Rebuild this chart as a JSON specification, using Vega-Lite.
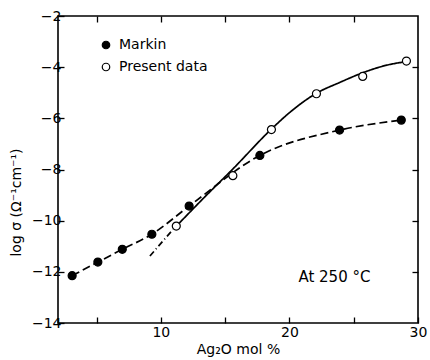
{
  "$schema": "https://vega.github.io/schema/vega-lite/v6.json",
  "width": 360,
  "height": 307,
  "autosize": {"type": "none"},
  "padding": {"left": 58, "top": 16, "right": 12, "bottom": 37},
  "background": "white",
  "config": {
    "font": "DejaVu Sans",
    "view": {"stroke": "black", "strokeWidth": 1.6},
    "axis": {"domain": false, "grid": false, "labelFlush": false, "labelFont": "DejaVu Sans", "labelFontSize": 14, "labelColor": "black", "tickColor": "black", "tickWidth": 1.3, "titleFont": "DejaVu Sans", "titleFontSize": 14, "titleFontWeight": "normal", "titleColor": "black"}
  },
  "datasets": {
    "points": [
      {"x": 3.1, "y": -12.15, "series": "Markin"},
      {"x": 5.1, "y": -11.62, "series": "Markin"},
      {"x": 7.0, "y": -11.12, "series": "Markin"},
      {"x": 9.3, "y": -10.53, "series": "Markin"},
      {"x": 12.2, "y": -9.43, "series": "Markin"},
      {"x": 17.7, "y": -7.45, "series": "Markin"},
      {"x": 23.9, "y": -6.46, "series": "Markin"},
      {"x": 28.7, "y": -6.07, "series": "Markin"},
      {"x": 11.2, "y": -10.21, "series": "Present data"},
      {"x": 15.6, "y": -8.24, "series": "Present data"},
      {"x": 18.6, "y": -6.44, "series": "Present data"},
      {"x": 22.1, "y": -5.04, "series": "Present data"},
      {"x": 25.7, "y": -4.36, "series": "Present data"},
      {"x": 29.1, "y": -3.76, "series": "Present data"}
    ],
    "curves": [
      {"x": 3.1, "y": -12.15, "curve": "markin"},
      {"x": 5.1, "y": -11.62, "curve": "markin"},
      {"x": 7.0, "y": -11.12, "curve": "markin"},
      {"x": 9.3, "y": -10.53, "curve": "markin"},
      {"x": 12.2, "y": -9.43, "curve": "markin"},
      {"x": 17.7, "y": -7.45, "curve": "markin"},
      {"x": 23.9, "y": -6.46, "curve": "markin"},
      {"x": 28.7, "y": -6.07, "curve": "markin"},
      {"x": 11.0, "y": -10.32, "curve": "present"},
      {"x": 13.4, "y": -9.08, "curve": "present"},
      {"x": 15.6, "y": -7.98, "curve": "present"},
      {"x": 18.6, "y": -6.42, "curve": "present"},
      {"x": 20.0, "y": -5.78, "curve": "present"},
      {"x": 22.1, "y": -5.02, "curve": "present"},
      {"x": 23.9, "y": -4.6, "curve": "present"},
      {"x": 25.7, "y": -4.22, "curve": "present"},
      {"x": 27.5, "y": -3.93, "curve": "present"},
      {"x": 29.3, "y": -3.77, "curve": "present"},
      {"x": 9.15, "y": -11.38, "curve": "extrapolation"},
      {"x": 10.95, "y": -10.34, "curve": "extrapolation"}
    ],
    "note": [{"x": 23.5, "y": -12.2, "text": "At 250 °C"}]
  },
  "layer": [
    {
      "data": {"name": "curves"},
      "mark": {"type": "line", "color": "black", "strokeWidth": 1.7, "interpolate": "monotone"},
      "encoding": {
        "x": {"field": "x", "type": "quantitative", "scale": {"domain": [2, 30], "nice": false, "zero": false},
              "axis": {"orient": "bottom", "title": "Ag₂O mol %", "values": [5, 10, 15, 20, 25, 30], "tickSize": -6, "labelPadding": 8, "labelExpr": "datum.value % 10 === 0 ? datum.label : ''", "titlePadding": 3}},
        "y": {"field": "y", "type": "quantitative", "scale": {"domain": [-14, -2], "nice": false, "zero": false},
              "axis": {"orient": "left", "title": "log σ (Ω⁻¹cm⁻¹)", "values": [-14, -12, -10, -8, -6, -4, -2], "tickSize": -6, "labelPadding": 3, "titleY": 186, "titleX": -35}},
        "detail": {"field": "curve"},
        "strokeDash": {"field": "curve", "type": "nominal", "scale": {"domain": ["markin", "present", "extrapolation"], "range": [[8, 4], [1, 0], [6, 3, 1, 3]]}, "legend": null}
      }
    },
    {
      "data": {"name": "points"},
      "mark": {"type": "point", "shape": "circle", "filled": true, "stroke": "black", "strokeWidth": 1.2, "size": 64, "opacity": 1},
      "encoding": {
        "x": {"field": "x", "type": "quantitative", "axis": {"orient": "top", "title": null, "labels": false, "values": [5, 10, 15, 20, 25], "tickSize": -6}},
        "y": {"field": "y", "type": "quantitative", "axis": {"orient": "right", "title": null, "labels": false, "values": [-12, -10, -8, -6, -4], "tickSize": -6}},
        "fill": {"field": "series", "type": "nominal", "scale": {"domain": ["Markin", "Present data"], "range": ["black", "white"]},
                 "legend": {"title": null, "orient": "none", "legendX": 41, "legendY": 22, "padding": 0, "labelFontSize": 14, "labelFont": "DejaVu Sans", "labelColor": "black", "labelOffset": 6, "rowPadding": 8, "symbolSize": 56, "symbolStrokeColor": "black", "symbolStrokeWidth": 1.2, "symbolType": "circle"}}
      }
    },
    {
      "data": {"name": "note"},
      "mark": {"type": "text", "fontSize": 15, "font": "DejaVu Sans", "color": "black", "align": "center", "baseline": "middle"},
      "encoding": {
        "x": {"field": "x", "type": "quantitative", "axis": null},
        "y": {"field": "y", "type": "quantitative", "axis": null},
        "text": {"field": "text"}
      }
    }
  ],
  "resolve": {"axis": {"x": "independent", "y": "independent"}}
}
